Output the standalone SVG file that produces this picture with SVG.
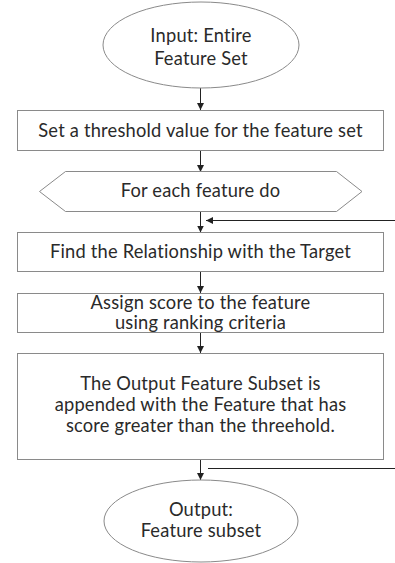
<svg xmlns="http://www.w3.org/2000/svg" width="395" height="563" viewBox="0 0 395 563">
<style>
.shape{fill:#fff;stroke:#8a8a8a;stroke-width:1}
.t{font-family:Lato,"Noto Sans",sans-serif;font-size:18.3px;letter-spacing:0.2px;fill:#2a2a2a;text-anchor:middle}
.c{stroke:#222;stroke-width:1;fill:none}
</style>
<defs>
<marker id="ah" viewBox="0 0 10 10" refX="10" refY="5" markerWidth="7" markerHeight="7" markerUnits="userSpaceOnUse" orient="auto"><path d="M0,0 L10,5 L0,10 Z" fill="#222"/></marker>
</defs>
<rect width="395" height="563" fill="#fff"/>
<g id="connectors">
<line class="c" x1="200.5" y1="88" x2="200.5" y2="110" marker-end="url(#ah)"/>
<line class="c" x1="200.5" y1="150" x2="200.5" y2="172" marker-end="url(#ah)"/>
<line class="c" x1="200.5" y1="211" x2="200.5" y2="232.5" marker-end="url(#ah)"/>
<line class="c" x1="395" y1="220.5" x2="206" y2="220.5" marker-end="url(#ah)"/>
<line class="c" x1="200.5" y1="271" x2="200.5" y2="293" marker-end="url(#ah)"/>
<line class="c" x1="200.5" y1="333" x2="200.5" y2="353" marker-end="url(#ah)"/>
<line class="c" x1="200.5" y1="459" x2="200.5" y2="480" marker-end="url(#ah)"/>
<line class="c" x1="208" y1="468.5" x2="395" y2="468.5"/>
</g>
<g id="input">
<ellipse class="shape" cx="201" cy="45" rx="98" ry="43"/>
<text class="t" x="201" y="42">Input: Entire</text>
<text class="t" x="201" y="65">Feature Set</text>
</g>
<g id="threshold">
<rect class="shape" x="17.5" y="110.5" width="366" height="40"/>
<text class="t" x="200.5" y="137">Set a threshold value for the feature set</text>
</g>
<g id="foreach">
<polygon class="shape" points="39.5,191.5 65.5,171.5 336.5,171.5 362,191.5 336.5,211.5 65.5,211.5"/>
<text class="t" x="200.5" y="197">For each feature do</text>
</g>
<g id="relationship">
<rect class="shape" x="17.5" y="232.5" width="366" height="39"/>
<text class="t" x="200.5" y="258">Find the Relationship with the Target</text>
</g>
<g id="score">
<rect class="shape" x="17.5" y="293.5" width="366" height="39"/>
<text class="t" x="200.5" y="309">Assign score to the feature</text>
<text class="t" x="200.5" y="329">using ranking criteria</text>
</g>
<g id="append">
<rect class="shape" x="17.5" y="353.5" width="366" height="106"/>
<text class="t" x="200.5" y="390">The Output Feature Subset is</text>
<text class="t" x="200.5" y="411">appended with the Feature that has</text>
<text class="t" x="200.5" y="432">score greater than the threehold.</text>
</g>
<g id="output">
<ellipse class="shape" cx="201" cy="521" rx="97" ry="41"/>
<text class="t" x="201" y="516">Output:</text>
<text class="t" x="201" y="537">Feature subset</text>
</g>
</svg>
